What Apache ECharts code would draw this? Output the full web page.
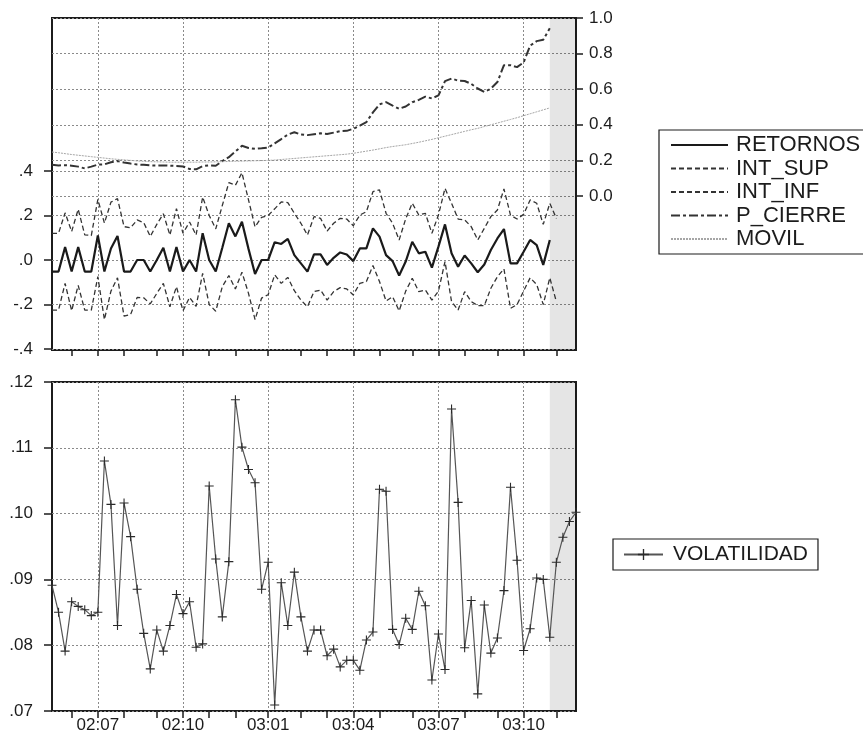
<!DOCTYPE html>
<html><head><meta charset="utf-8">
<script src="https://cdn.jsdelivr.net/npm/echarts@6/dist/echarts.min.js"></script>
<style>html,body{margin:0;padding:0;background:#fff}#c{width:863px;height:740px}</style>
</head><body><div id="c"></div>
<script>
// ---- data (weekly observations, month code per week) ----
const months = [
 '02:05','02:05','02:05',
 '02:06','02:06','02:06','02:06',
 '02:07','02:07','02:07','02:07',
 '02:08','02:08','02:08','02:08','02:08',
 '02:09','02:09','02:09','02:09',
 '02:10','02:10','02:10','02:10',
 '02:11','02:11','02:11','02:11',
 '02:12','02:12','02:12','02:12','02:12',
 '03:01','03:01','03:01','03:01','03:01',
 '03:02','03:02','03:02','03:02',
 '03:03','03:03','03:03','03:03',
 '03:04','03:04','03:04','03:04',
 '03:05','03:05','03:05','03:05','03:05',
 '03:06','03:06','03:06','03:06',
 '03:07','03:07','03:07','03:07',
 '03:08','03:08','03:08','03:08','03:08',
 '03:09','03:09','03:09','03:09',
 '03:10','03:10','03:10','03:10','03:10',
 '03:11','03:11','03:11','03:11'
];
const quarterMonths = ['01','04','07','10'];
const forecastFrom = 76, forecastTo = 80;

const retornos = [
 -0.052,-0.052,0.058,-0.052,0.058,-0.052,-0.052,0.110,-0.052,0.052,
 0.108,-0.052,-0.052,0.000,0.000,-0.052,0.000,0.055,-0.052,0.058,
 -0.052,0.000,-0.052,0.120,0.000,-0.052,0.055,0.165,0.106,0.172,
 0.050,-0.063,0.000,0.000,0.080,0.072,0.095,0.022,-0.015,-0.052,
 0.025,0.025,-0.022,0.010,0.034,0.025,-0.005,0.052,0.052,0.142,
 0.105,0.022,-0.005,-0.070,-0.007,0.082,0.030,0.037,-0.034,0.060,
 0.160,0.030,-0.030,0.020,-0.015,-0.055,-0.020,0.045,0.097,0.139,
 -0.015,-0.015,0.037,0.090,0.067,-0.022,0.090
];
const intSup = [
 0.120,0.120,0.212,0.128,0.228,0.113,0.110,0.272,0.166,0.260,
 0.276,0.150,0.145,0.180,0.168,0.106,0.160,0.208,0.112,0.231,
 0.120,0.171,0.112,0.283,0.200,0.140,0.245,0.348,0.336,0.392,
 0.270,0.149,0.192,0.200,0.230,0.261,0.258,0.210,0.165,0.112,
 0.195,0.187,0.130,0.165,0.187,0.184,0.154,0.202,0.217,0.307,
 0.315,0.210,0.165,0.090,0.185,0.255,0.202,0.210,0.120,0.202,
 0.322,0.255,0.184,0.180,0.150,0.090,0.142,0.195,0.225,0.319,
 0.202,0.184,0.205,0.270,0.255,0.160,0.255,0.187
];
const intInf = [
 -0.225,-0.225,-0.105,-0.228,-0.114,-0.225,-0.225,-0.075,-0.268,-0.140,
 -0.080,-0.252,-0.245,-0.168,-0.170,-0.197,-0.150,-0.105,-0.210,-0.120,
 -0.228,-0.168,-0.208,-0.060,-0.200,-0.230,-0.120,-0.070,-0.130,-0.055,
 -0.150,-0.268,-0.171,-0.156,-0.067,-0.105,-0.078,-0.138,-0.180,-0.210,
 -0.142,-0.135,-0.180,-0.142,-0.124,-0.130,-0.157,-0.105,-0.097,-0.025,
 -0.097,-0.184,-0.165,-0.229,-0.140,-0.082,-0.142,-0.135,-0.180,-0.140,
 -0.007,-0.187,-0.225,-0.142,-0.187,-0.205,-0.205,-0.127,-0.075,-0.040,
 -0.217,-0.200,-0.140,-0.080,-0.110,-0.200,-0.080,-0.187
];
const pCierre = [
 0.175,0.172,0.173,0.170,0.165,0.155,0.165,0.176,0.178,0.190,
 0.196,0.188,0.182,0.177,0.175,0.172,0.171,0.172,0.170,0.169,
 0.166,0.152,0.150,0.168,0.172,0.170,0.196,0.218,0.250,0.282,
 0.270,0.265,0.268,0.272,0.296,0.320,0.345,0.358,0.345,0.342,
 0.347,0.352,0.348,0.356,0.364,0.366,0.378,0.395,0.415,0.470,
 0.515,0.527,0.508,0.490,0.503,0.527,0.540,0.558,0.548,0.565,
 0.645,0.660,0.648,0.646,0.630,0.604,0.585,0.603,0.640,0.735,
 0.735,0.724,0.750,0.845,0.870,0.878,0.942
];
const movil = [
 0.247,0.243,0.238,0.233,0.229,0.225,0.221,0.217,0.213,0.209,
 0.206,0.203,0.200,0.197,0.195,0.193,0.192,0.191,0.190,0.190,
 0.190,0.190,0.190,0.191,0.191,0.192,0.193,0.194,0.195,0.196,
 0.197,0.198,0.199,0.200,0.202,0.205,0.208,0.211,0.214,0.217,
 0.220,0.223,0.226,0.229,0.232,0.235,0.240,0.246,0.252,0.258,
 0.265,0.272,0.278,0.283,0.288,0.295,0.302,0.310,0.318,0.327,
 0.336,0.345,0.354,0.363,0.372,0.380,0.390,0.400,0.410,0.420,
 0.430,0.440,0.451,0.462,0.473,0.484,0.495
];
const volatilidad = [
 0.0891,0.0850,0.0791,0.0866,0.0859,0.0854,0.0845,0.0850,0.1080,0.1014,
 0.0830,0.1016,0.0965,0.0885,0.0818,0.0764,0.0823,0.0791,0.0830,0.0877,
 0.0848,0.0866,0.0797,0.0802,0.1042,0.0931,0.0843,0.0927,0.1173,0.1101,
 0.1067,0.1047,0.0885,0.0926,0.0709,0.0895,0.0830,0.0911,0.0843,0.0791,
 0.0823,0.0823,0.0784,0.0794,0.0767,0.0777,0.0777,0.0762,0.0808,0.0820,
 0.1037,0.1034,0.0824,0.0801,0.0841,0.0824,0.0882,0.0860,0.0747,0.0817,
 0.0763,0.1159,0.1017,0.0796,0.0868,0.0726,0.0861,0.0788,0.0811,0.0883,
 0.1040,0.0929,0.0792,0.0825,0.0902,0.0900,0.0812,0.0926,0.0964,0.0988,
 0.1002
];

// ---- helpers ----
const isMonthStart = (i) => i > 0 && months[i] !== months[i - 1];
const isQuarterStart = (i) => isMonthStart(i) && quarterMonths.indexOf(months[i].slice(3)) >= 0;
const fmtLeft = (v) => { if (Math.abs(v) < 1e-9) return '.0'; return (v < 0 ? '-' : '') + Math.abs(v).toFixed(1).replace(/^0/, ''); };
const fmtRight = (v) => v.toFixed(1);
const fmtVol = (v) => v.toFixed(2).replace(/^0/, '');

const FONT = 'Liberation Sans';
const INK = '#1c1c1c';
const GL = 52, GW = 524;
const gridDot = { color: '#8a8a8a', width: 1, type: [2, 2] };
const plus = 'path://M4.4,0H5.6V4.4H10V5.6H5.6V10H4.4V5.6H0V4.4H4.4Z';
const shade = { silent: true, itemStyle: { color: 'rgba(0,0,0,0.10)' },
  data: [[{ xAxis: forecastFrom }, { xAxis: forecastTo }]] };

const hiddenX = (g) => ({ gridIndex: g, type: 'category', data: months, boundaryGap: false, show: false,
  axisLine: { onZero: false } });

const option = {
  animation: false,
  backgroundColor: '#fff',
  textStyle: { fontFamily: FONT },
  grid: [
    { left: GL, top: 18, width: GW, height: 332, show: true, borderColor: INK, borderWidth: 2, backgroundColor: 'transparent', outerBoundsMode: 'none' },
    { left: GL, top: 171, width: GW, height: 178, outerBoundsMode: 'none' },
    { left: GL, top: 18, width: GW, height: 178, outerBoundsMode: 'none' },
    { left: GL, top: 382, width: GW, height: 329, show: true, borderColor: INK, borderWidth: 2, backgroundColor: 'transparent', outerBoundsMode: 'none' }
  ],
  xAxis: [
    { gridIndex: 0, type: 'category', data: months, boundaryGap: false, position: 'bottom',
      axisLine: { show: false, onZero: false },
      axisTick: { show: true, interval: isMonthStart, length: 6, lineStyle: { color: INK, width: 1.5 } },
      axisLabel: { show: false },
      splitLine: { show: true, interval: isQuarterStart, lineStyle: gridDot } },
    hiddenX(1),
    hiddenX(2),
    { gridIndex: 3, type: 'category', data: months, boundaryGap: false, position: 'bottom',
      axisLine: { show: false, onZero: false },
      axisTick: { show: true, interval: isMonthStart, length: 7, lineStyle: { color: INK, width: 1.5 } },
      axisLabel: { show: true, interval: isQuarterStart, fontSize: 17, color: INK, margin: 6 },
      splitLine: { show: true, interval: isQuarterStart, lineStyle: gridDot } }
  ],
  yAxis: [
    { gridIndex: 0, type: 'value', min: -0.8652, max: 1.0, show: false, splitLine: { show: false } },
    { gridIndex: 1, type: 'value', min: -0.4, max: 0.4, interval: 0.2, position: 'left',
      axisLine: { show: false },
      axisTick: { show: true, length: 8, lineStyle: { color: INK, width: 1.5 } },
      axisLabel: { formatter: fmtLeft, fontSize: 17, color: INK, margin: 19 },
      splitLine: { show: true, lineStyle: gridDot } },
    { gridIndex: 2, type: 'value', min: 0, max: 1.0, interval: 0.2, position: 'right',
      axisLine: { show: false },
      axisTick: { show: true, length: 7, lineStyle: { color: INK, width: 1.5 } },
      axisLabel: { formatter: fmtRight, fontSize: 17, color: INK, margin: 13 },
      splitLine: { show: true, lineStyle: gridDot } },
    { gridIndex: 3, type: 'value', min: 0.07, max: 0.12, interval: 0.01,
      axisLine: { show: false },
      axisTick: { show: true, length: 8, lineStyle: { color: INK, width: 1.5 } },
      axisLabel: { formatter: fmtVol, fontSize: 17, color: INK, margin: 19 },
      splitLine: { show: true, lineStyle: gridDot } }
  ],
  legend: [
    { data: ['RETORNOS', 'INT_SUP', 'INT_INF', 'P_CIERRE', 'MOVIL'],
      orient: 'vertical', left: 659, top: 130, itemWidth: 57, itemHeight: 14, itemGap: 1.5,
      padding: [4, 10, 4, 11], borderColor: INK, borderWidth: 1.2, selectedMode: false,
      itemStyle: { opacity: 0 },
      textStyle: { fontSize: 22, color: INK, padding: [0, 0, 0, 3] } },
    { data: ['VOLATILIDAD'], orient: 'vertical', left: 613, top: 539, itemWidth: 39, itemHeight: 14,
      padding: [5, 10, 5, 10], borderColor: INK, borderWidth: 1.2, selectedMode: false,
      textStyle: { fontSize: 21, color: INK, padding: [0, 0, 0, 5] } }
  ],
  series: [
    { name: 'P_CIERRE', type: 'line', xAxisIndex: 0, yAxisIndex: 0, data: pCierre, symbol: 'none',
      itemStyle: { color: '#333' },
      lineStyle: { color: '#333', width: 2, type: [9, 3, 3, 3] }, markArea: shade, z: 3 },
    { name: 'MOVIL', type: 'line', xAxisIndex: 0, yAxisIndex: 0, data: movil, symbol: 'none',
      itemStyle: { color: '#a6a6a6' },
      lineStyle: { color: '#a6a6a6', width: 1, type: [2, 1] }, z: 3 },
    { name: 'INT_SUP', type: 'line', xAxisIndex: 1, yAxisIndex: 1, data: intSup, symbol: 'none',
      itemStyle: { color: '#333' },
      lineStyle: { color: '#333', width: 1.3, type: [5, 3] }, z: 4 },
    { name: 'INT_INF', type: 'line', xAxisIndex: 1, yAxisIndex: 1, data: intInf, symbol: 'none',
      itemStyle: { color: '#333' },
      lineStyle: { color: '#333', width: 1.3, type: [5, 3] }, z: 4 },
    { name: 'RETORNOS', type: 'line', xAxisIndex: 1, yAxisIndex: 1, data: retornos, symbol: 'none',
      itemStyle: { color: '#1a1a1a' },
      lineStyle: { color: '#1a1a1a', width: 2.2 }, z: 5 },
    { name: 'VOLATILIDAD', type: 'line', xAxisIndex: 3, yAxisIndex: 3, data: volatilidad,
      symbol: plus, symbolSize: 9, showSymbol: true, showAllSymbol: true,
      itemStyle: { color: '#2a2a2a' }, lineStyle: { color: '#555', width: 1.2 },
      markArea: shade, z: 4 }
  ]
};

const chart = echarts.init(document.getElementById('c'), null, { renderer: 'canvas' });
chart.setOption(option);
</script>
</body></html>
